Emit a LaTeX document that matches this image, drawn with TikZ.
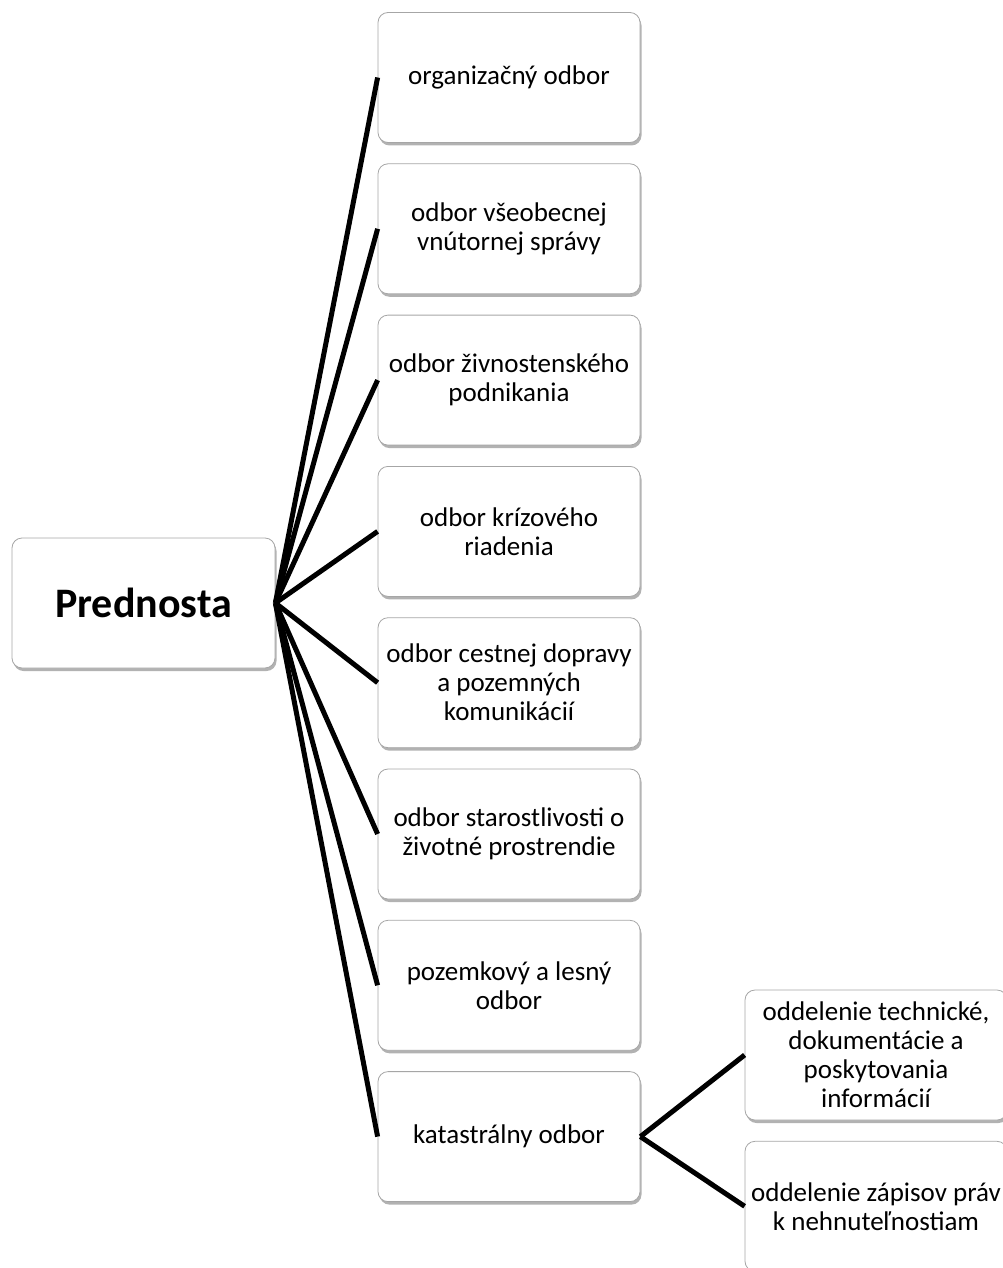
\documentclass[tikz,border=0pt]{standalone}
\usepackage{fontspec}
\setmainfont{Carlito}
\usepackage{tikz}
\usetikzlibrary{positioning, shadows}

\tikzset{
    box/.style={draw=gray!70, line width=0.8pt, rounded corners=10pt, fill=white,
        drop shadow={shadow xshift=1.5pt, shadow yshift=-3pt, opacity=0.3, fill=black},
        minimum width=262pt, minimum height=130pt, inner xsep=2pt, align=center,
        font=\fontsize{27}{29}\selectfont},
    conn/.style={line width=5pt, black}
}

\begin{document}
\begin{tikzpicture}[x=1pt, y=1pt, node distance=20.5pt]
    \useasboundingbox (0,0) rectangle (1002,-1268);

    \node (prednosta) [box, minimum width=263pt, font=\bfseries\fontsize{42}{44}\selectfont] at (143.5,-603) {Prednosta};

    \node (org) [box] at (509,-77.5) {organizačný odbor};
    \node (vseob) [box, below=of org] {odbor všeobecnej\\vnútornej správy};
    \node (zivn) [box, below=of vseob] {odbor živnostenského\\podnikania};
    \node (kriz) [box, below=of zivn] {odbor krízového\\riadenia};
    \node (doprava) [box, below=of kriz] {odbor cestnej dopravy\\a pozemných\\komunikácií};
    \node (prostr) [box, below=of doprava] {odbor starostlivosti o\\životné prostrendie};
    \node (lesny) [box, below=of prostr] {pozemkový a lesný\\odbor};
    \node (kataster) [box, below=of lesny] {katastrálny odbor};

    \node (technicke) [box] at (876,-1055) {oddelenie technické,\\dokumentácie a\\poskytovania\\informácií};
    \node (zapisy) [box, below=of technicke] {oddelenie zápisov práv\\k nehnuteľnostiam};

    % spojnice
    \foreach \n in {org, vseob, zivn, kriz, doprava, prostr, lesny, kataster}
        \draw[conn] (prednosta.east) -- (\n.west);
    \draw[conn] (kataster.east) -- (technicke.west);
    \draw[conn] (kataster.east) -- (zapisy.west);
\end{tikzpicture}
\end{document}
